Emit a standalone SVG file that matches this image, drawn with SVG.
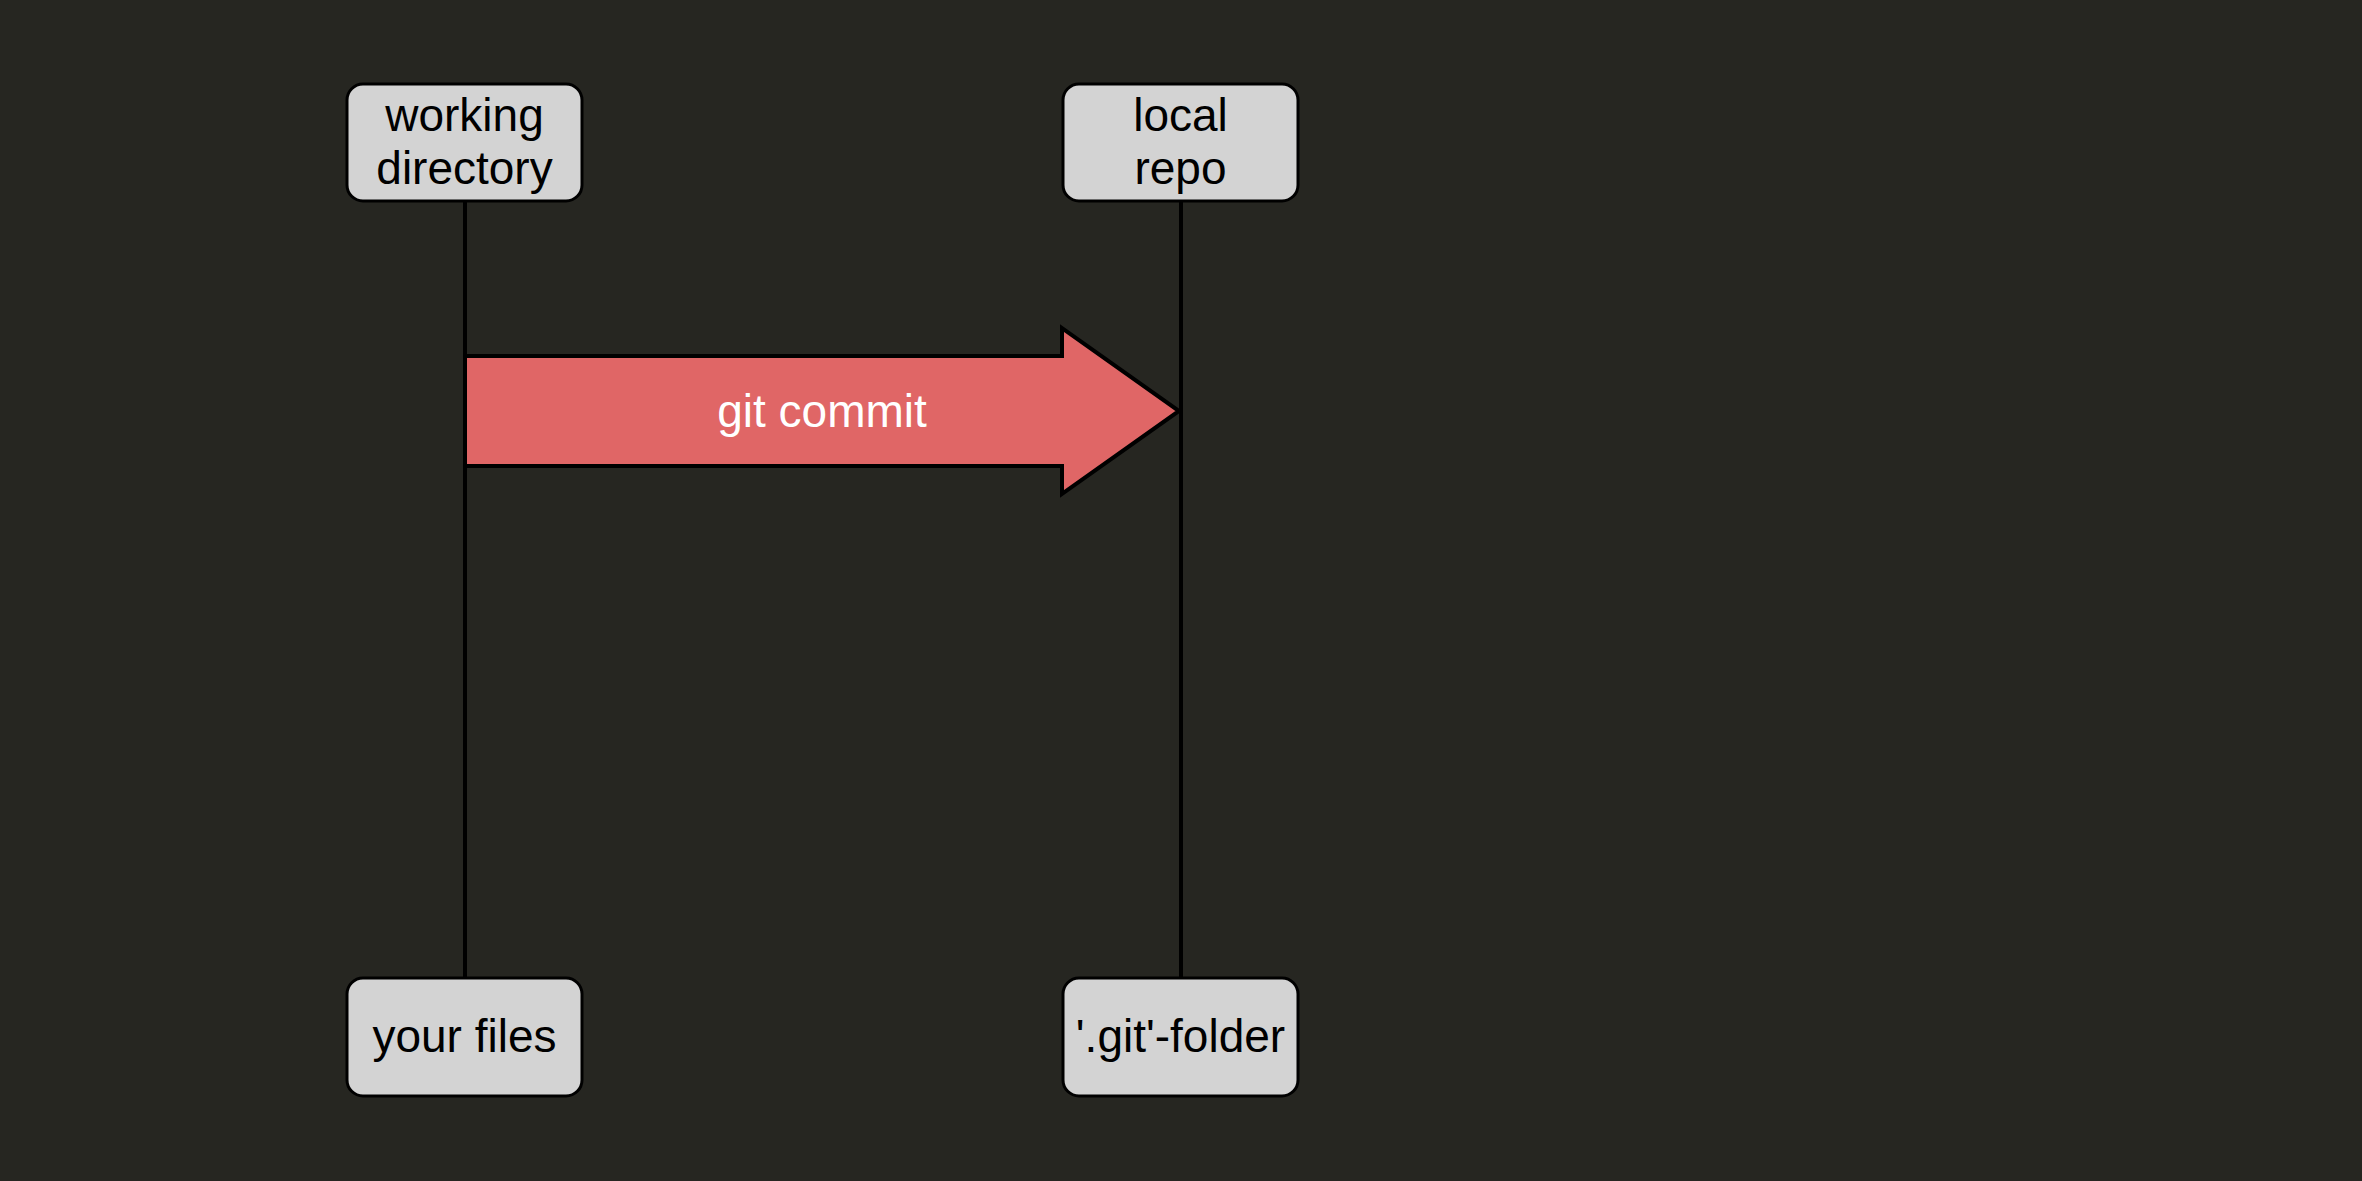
<svg xmlns="http://www.w3.org/2000/svg" width="2362" height="1181" viewBox="0 0 2362 1181">
<style>
.box{fill:#d3d3d3;stroke:#000;stroke-width:3}
.lbl{font-family:"Liberation Sans",Arial,sans-serif;font-size:46px;fill:#000;text-anchor:middle}
.life{stroke:#000;stroke-width:4;fill:none}
.arrowtxt{font-family:"Liberation Sans",Arial,sans-serif;font-size:46px;fill:#fff;text-anchor:middle}
</style>
<rect x="0" y="0" width="2362" height="1181" fill="#262621"/>
<g id="connectors">
<line class="life" x1="465" y1="201" x2="465" y2="978"/>
<line class="life" x1="1181" y1="201" x2="1181" y2="978"/>
<g id="git-commit">
<path d="M467,356 H1062 V328 L1179,411 L1062,494 V466 H467" fill="#e06666" stroke="#000" stroke-width="4" stroke-linejoin="miter"/>
<text class="arrowtxt" x="822" y="427">git commit</text>
</g>
</g>
<g id="working-directory">
<rect class="box" x="347" y="84" width="235" height="117" rx="16"/>
<text class="lbl" x="464.5" y="131">working</text>
<text class="lbl" x="464.5" y="184">directory</text>
</g>
<g id="local-repo">
<rect class="box" x="1063" y="84" width="235" height="117" rx="16"/>
<text class="lbl" x="1180.5" y="131">local</text>
<text class="lbl" x="1180.5" y="184">repo</text>
</g>
<g id="your-files">
<rect class="box" x="347" y="978" width="235" height="118" rx="16"/>
<text class="lbl" x="464.5" y="1052">your files</text>
</g>
<g id="git-folder">
<rect class="box" x="1063" y="978" width="235" height="118" rx="16"/>
<text class="lbl" x="1180.5" y="1052">'.git'-folder</text>
</g>
</svg>
